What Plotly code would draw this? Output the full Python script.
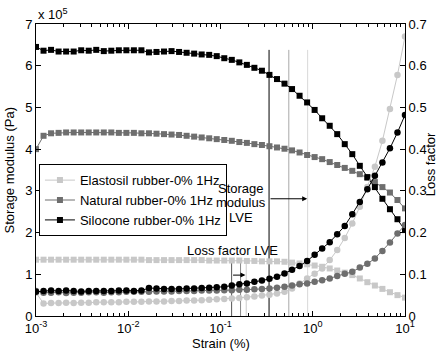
import plotly.graph_objects as go

# Strain (%) values (log-spaced sweep, 50 points)
strain = [0.001, 0.001207, 0.001456, 0.001758, 0.002121, 0.00256, 0.003089, 0.003728,
          0.004498, 0.005429, 0.006551, 0.007906, 0.009541, 0.01151, 0.01389, 0.01677,
          0.02024, 0.02442, 0.02947, 0.03556, 0.04292, 0.05179, 0.06251, 0.07543,
          0.09103, 0.1099, 0.1326, 0.16, 0.1931, 0.233, 0.2812, 0.3393, 0.4095, 0.4942,
          0.5964, 0.7197, 0.8686, 1.048, 1.265, 1.527, 1.842, 2.223, 2.683, 3.237,
          3.907, 4.715, 5.69, 6.866, 8.286, 10.0]

# Storage modulus (x 1e5 Pa)
g_elastosil = [1.35, 1.35, 1.35, 1.35, 1.35, 1.35, 1.35, 1.35, 1.35, 1.35, 1.35, 1.35, 1.35,
               1.35, 1.35, 1.34, 1.34, 1.34, 1.34, 1.34, 1.34, 1.34, 1.34, 1.33, 1.33, 1.33,
               1.33, 1.33, 1.32, 1.32, 1.31, 1.31, 1.31, 1.30, 1.28, 1.26, 1.24, 1.21, 1.18,
               1.14, 1.09, 1.04, 0.98, 0.90, 0.81, 0.73, 0.65, 0.57, 0.50, 0.44]
g_natural = [4.00, 4.32, 4.38, 4.39, 4.40, 4.40, 4.40, 4.40, 4.40, 4.40, 4.40, 4.39, 4.39,
             4.39, 4.38, 4.38, 4.37, 4.36, 4.35, 4.34, 4.32, 4.30, 4.28, 4.26, 4.24, 4.22,
             4.20, 4.17, 4.15, 4.12, 4.10, 4.07, 4.04, 4.01, 3.97, 3.92, 3.86, 3.81, 3.76,
             3.69, 3.62, 3.55, 3.48, 3.40, 3.31, 3.21, 3.09, 2.96, 2.78, 2.58]
g_silicone = [6.45, 6.36, 6.38, 6.34, 6.34, 6.34, 6.37, 6.36, 6.38, 6.35, 6.36, 6.37, 6.37,
              6.37, 6.37, 6.32, 6.33, 6.34, 6.35, 6.33, 6.31, 6.29, 6.27, 6.26, 6.23, 6.18,
              6.14, 6.08, 6.02, 5.95, 5.88, 5.78, 5.68, 5.57, 5.44, 5.28, 5.12, 4.94, 4.74,
              4.56, 4.36, 4.12, 3.88, 3.60, 3.33, 3.09, 2.81, 2.56, 2.32, 2.06]

# Loss factor
lf_elastosil = [0.056, 0.030, 0.031, 0.031, 0.032, 0.031, 0.032, 0.032, 0.033, 0.033, 0.033,
                0.033, 0.034, 0.034, 0.034, 0.035, 0.035, 0.035, 0.036, 0.036, 0.037, 0.037,
                0.038, 0.039, 0.040, 0.041, 0.042, 0.043, 0.045, 0.047, 0.049, 0.051, 0.054,
                0.058, 0.066, 0.078, 0.090, 0.101, 0.114, 0.134, 0.158, 0.187, 0.222, 0.262,
                0.309, 0.358, 0.420, 0.496, 0.578, 0.670]
lf_natural = [0.060, 0.056, 0.056, 0.057, 0.055, 0.056, 0.056, 0.057, 0.057, 0.056, 0.057,
              0.057, 0.058, 0.058, 0.058, 0.058, 0.059, 0.059, 0.059, 0.060, 0.060, 0.060,
              0.061, 0.061, 0.061, 0.062, 0.062, 0.063, 0.063, 0.064, 0.065, 0.066, 0.068,
              0.070, 0.073, 0.076, 0.078, 0.082, 0.086, 0.090, 0.096, 0.101, 0.106, 0.116,
              0.125, 0.138, 0.156, 0.176, 0.198, 0.218]
lf_silicone = [0.058, 0.060, 0.061, 0.060, 0.061, 0.060, 0.059, 0.060, 0.060, 0.060, 0.060,
               0.061, 0.061, 0.060, 0.061, 0.067, 0.066, 0.065, 0.065, 0.065, 0.066, 0.066,
               0.067, 0.068, 0.069, 0.070, 0.073, 0.076, 0.078, 0.082, 0.085, 0.089, 0.094,
               0.102, 0.111, 0.120, 0.132, 0.147, 0.162, 0.177, 0.196, 0.216, 0.244, 0.273,
               0.304, 0.336, 0.368, 0.402, 0.440, 0.482]

series_names = ["Elastosil rubber-0% 1Hz", "Natural rubber-0% 1Hz", "Silocone rubber-0% 1Hz"]
series_colors = ["#c8c8c8", "#6e6e6e", "#000000"]

# LVE limit strains (%) for storage modulus and loss factor, and the line heights
lve_storage = [0.336, 0.55, 0.88]
lve_storage_colors = ["#000000", "#a8a8a8", "#d8d8d8"]
lve_storage_top = 6.38
lve_loss = [0.132, 0.165, 0.19]
lve_loss_colors = ["#555555", "#888888", "#cccccc"]
lve_loss_top = 1.37

x_tickvals = [0.001, 0.01, 0.1, 1, 10]
x_ticktext = ["10<sup>-3</sup>", "10<sup>-2</sup>", "10<sup>-1</sup>", "10<sup>0</sup>", "10<sup>1</sup>"]
x_minor = [m * d for d in [0.001, 0.01, 0.1, 1] for m in range(2, 10)]
y_ticks = [0, 1, 2, 3, 4, 5, 6, 7]
y2_ticks = [0, 0.1, 0.2, 0.3, 0.4, 0.5, 0.6, 0.7]

FONT = "Liberation Sans, Arial, sans-serif"
fig = go.Figure()

for xv, col in zip(lve_storage, lve_storage_colors):
    fig.add_trace(go.Scatter(x=[xv, xv], y=[0, lve_storage_top], mode="lines",
                             line=dict(color=col, width=1), showlegend=False, hoverinfo="skip"))
for xv, col in zip(lve_loss, lve_loss_colors):
    fig.add_trace(go.Scatter(x=[xv, xv], y=[0, lve_loss_top], mode="lines",
                             line=dict(color=col, width=1), showlegend=False, hoverinfo="skip"))

for name, col, g in zip(series_names, series_colors, [g_elastosil, g_natural, g_silicone]):
    fig.add_trace(go.Scatter(x=strain, y=g, name=name, mode="lines+markers",
                             line=dict(color=col, width=1),
                             marker=dict(symbol="square", size=6, color=col)))
for name, col, lf in zip(series_names, series_colors, [lf_elastosil, lf_natural, lf_silicone]):
    fig.add_trace(go.Scatter(x=strain, y=lf, name=name, mode="lines+markers", yaxis="y2",
                             line=dict(color=col, width=1), showlegend=False,
                             marker=dict(symbol="circle", size=6.5, color=col)))

fig.update_layout(
    width=440, height=353,
    margin=dict(l=36, r=35, t=24, b=37),
    paper_bgcolor="white", plot_bgcolor="white",
    font=dict(family=FONT, size=13, color="black"),
    showlegend=True,
    legend=dict(x=0.008, y=0.52, xanchor="left", yanchor="top",
                bgcolor="white", bordercolor="black", borderwidth=1,
                font=dict(size=13, family=FONT), tracegroupgap=0, itemwidth=30),
    xaxis=dict(type="log", range=[-3, 1], tickmode="array", tickvals=x_tickvals,
               ticktext=x_ticktext, ticks="inside", ticklen=5, tickcolor="black",
               showline=True, linecolor="black", linewidth=1, mirror="ticks",
               showgrid=False, zeroline=False,
               minor=dict(tickmode="array", tickvals=x_minor, ticks="inside", ticklen=3,
                          tickcolor="black", showgrid=False)),
    yaxis=dict(range=[0, 7], tickmode="array", tickvals=y_ticks, ticks="inside", ticklen=5,
               tickcolor="black", showline=True, linecolor="black", linewidth=1,
               showgrid=False, zeroline=False),
    yaxis2=dict(range=[0, 0.7], overlaying="y", side="right", tickmode="array",
                tickvals=y2_ticks, ticktext=["0", "0.1", "0.2", "0.3", "0.4", "0.5", "0.6", "0.7"],
                ticks="inside", ticklen=5, tickcolor="black", showline=True,
                linecolor="black", linewidth=1, showgrid=False, zeroline=False),
)

annotations = [
    dict(text="x 10<sup>5</sup>", xref="paper", yref="paper", x=0, y=1.0, xanchor="left",
         yanchor="bottom", showarrow=False, font=dict(size=13)),
    dict(text="Storage modulus (Pa)", xref="paper", yref="paper", x=-0.072, y=0.5,
         textangle=-90, xanchor="center", yanchor="middle", showarrow=False, font=dict(size=13)),
    dict(text="Loss factor", xref="paper", yref="paper", x=1.068, y=0.52,
         textangle=-90, xanchor="center", yanchor="middle", showarrow=False, font=dict(size=13)),
    dict(text="Strain (%)", xref="paper", yref="paper", x=0.5, y=-0.093,
         xanchor="center", yanchor="middle", showarrow=False, font=dict(size=13)),
    dict(text="Storage", xref="x", yref="y", x=-0.778, y=3.06,
         xanchor="center", yanchor="middle", showarrow=False, font=dict(size=13)),
    dict(text="modulus", xref="x", yref="y", x=-0.778, y=2.72,
         xanchor="center", yanchor="middle", showarrow=False, font=dict(size=13)),
    dict(text="LVE", xref="x", yref="y", x=-0.778, y=2.37,
         xanchor="center", yanchor="middle", showarrow=False, font=dict(size=13)),
    dict(text="Loss factor LVE", xref="x", yref="y", x=-0.875, y=1.58,
         xanchor="center", yanchor="middle", showarrow=False, font=dict(size=13)),
    # arrows (head at x, tail at ax)
    dict(x=-0.06, y=2.81, ax=-0.474, ay=2.81, xref="x", yref="y", axref="x", ayref="y",
         showarrow=True, arrowhead=2, arrowsize=1, arrowwidth=1, arrowcolor="black", text=""),
    dict(x=-0.73, y=0.98, ax=-0.88, ay=0.98, xref="x", yref="y", axref="x", ayref="y",
         showarrow=True, arrowhead=2, arrowsize=1, arrowwidth=1, arrowcolor="black", text=""),
]
fig.update_layout(annotations=annotations)

fig.write_html("out.html")
